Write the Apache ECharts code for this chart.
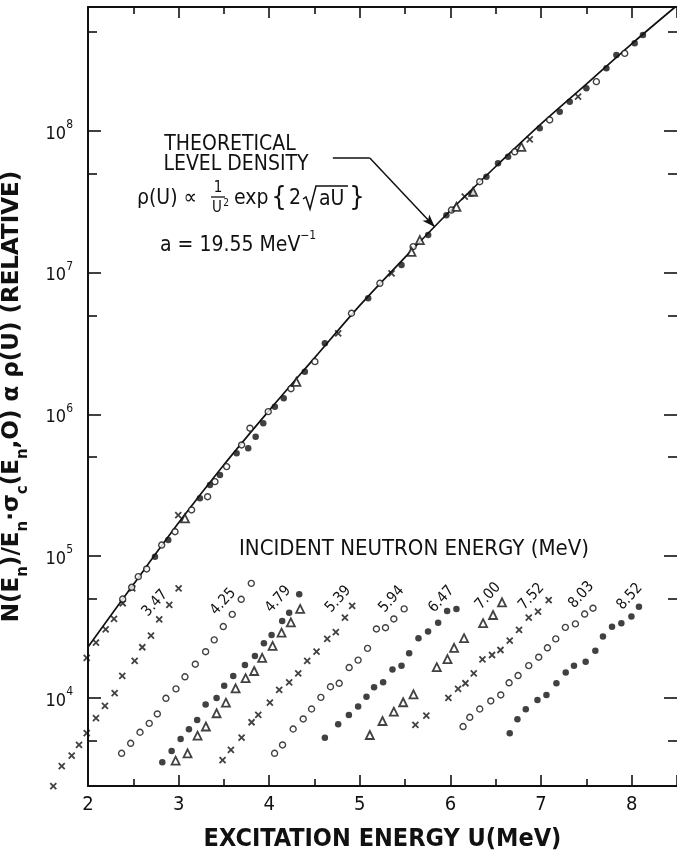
<!DOCTYPE html>
<html>
<head>
<meta charset="utf-8">
<script src="https://cdn.jsdelivr.net/npm/echarts@6/dist/echarts.min.js"></script>
<style>
html, body { margin: 0; padding: 0; background: #fff; }
#chart { width: 677px; height: 853px; }
</style>
</head>
<body>
<div id="chart"></div>
<script>
// Theoretical level density curve: [U (MeV), rho (relative)]
const theoryCurve = [
  [2.0, 22900], [2.5, 63100], [3.0, 172000], [3.5, 442000], [4.0, 1.07e6],
  [4.5, 2.51e6], [5.0, 5.89e6], [5.5, 1.288e7], [6.0, 2.75e7], [6.5, 5.62e7],
  [7.0, 1.122e8], [7.5, 2.14e8], [8.0, 4.12e8], [8.48, 7.50e8]
];

// Normalised points lying along the curve, grouped by symbol
const normCross = [
  [1.986, 19200], [2.088, 24600], [2.195, 30500], [2.287, 36100], [2.383, 46600],
  [2.489, 59400], [2.996, 195000], [4.761, 3.74e6], [5.350, 9.91e6], [6.158, 3.44e7],
  [6.875, 8.73e7], [7.408, 1.746e8]
];
const normOpen = [
  [2.383, 49900], [2.482, 60400], [2.555, 71800], [2.647, 81300], [2.813, 120000],
  [2.960, 149000], [3.143, 212000], [3.320, 263000], [3.401, 336000], [3.530, 429000],
  [3.695, 610000], [3.787, 800000], [3.989, 1.047e6], [4.24, 1.52e6], [4.504, 2.36e6],
  [4.908, 5.18e6], [5.221, 8.43e6], [5.588, 1.528e7], [6.011, 2.77e7], [6.323, 4.39e7],
  [6.709, 7.14e7], [7.095, 1.197e8], [7.610, 2.23e8], [7.923, 3.53e8]
];
const normDot = [
  [2.739, 99300], [2.886, 130000], [3.235, 256000], [3.346, 318000], [3.456, 374000],
  [3.640, 532000], [3.768, 578000], [3.850, 697000], [3.934, 867000], [4.062, 1.135e6],
  [4.16, 1.30e6], [4.393, 2.00e6], [4.614, 3.18e6], [5.092, 6.61e6], [5.460, 1.135e7],
  [5.754, 1.845e7], [5.955, 2.55e7], [6.232, 3.63e7], [6.397, 4.76e7], [6.525, 5.92e7],
  [6.636, 6.59e7], [6.985, 1.045e8], [7.206, 1.368e8], [7.316, 1.611e8], [7.500, 2.00e8],
  [7.721, 2.77e8], [7.831, 3.44e8], [8.033, 4.16e8], [8.124, 4.75e8]
];
const normTri = [
  [3.070, 185000], [4.30, 1.70e6], [5.570, 1.406e7], [5.662, 1.702e7],
  [6.066, 2.92e7], [6.250, 3.73e7], [6.783, 7.74e7]
];

// Measured spectra for each incident neutron energy: [U (MeV), counts (relative)]
const spec347 = [
  [1.617, 2390], [1.710, 3310], [1.820, 3920], [1.901, 4660], [1.986, 5640],
  [2.088, 7200], [2.187, 8780], [2.294, 10800], [2.378, 14300], [2.515, 18300],
  [2.599, 22800], [2.695, 27500], [2.786, 35900], [2.897, 45300], [3.000, 59400]
];
const spec425 = [
  [2.371, 4070], [2.471, 4790], [2.574, 5730], [2.676, 6620], [2.765, 7710],
  [2.860, 9950], [2.971, 11600], [3.070, 14100], [3.184, 17300], [3.298, 21200],
  [3.393, 25700], [3.493, 31900], [3.592, 38900], [3.691, 49700], [3.802, 64400]
];
const spec479dot = [
  [2.820, 3520], [2.923, 4230], [3.022, 5140], [3.114, 6010], [3.205, 7000],
  [3.298, 8980], [3.419, 10000], [3.503, 12200], [3.603, 14300], [3.732, 17100],
  [3.842, 19800], [3.941, 24300], [4.026, 27800], [4.143, 34900], [4.220, 40000],
  [4.331, 54000]
];
const spec479tri = [
  [2.967, 3610], [3.099, 4070], [3.209, 5420], [3.301, 6290], [3.419, 7800],
  [3.522, 9270], [3.629, 11700], [3.739, 13800], [3.834, 15500], [3.922, 19200],
  [4.037, 23300], [4.136, 28900], [4.239, 34200], [4.341, 42500]
];
const spec539 = [
  [3.485, 3650], [3.577, 4300], [3.695, 5250], [3.805, 6740], [3.879, 7590],
  [4.007, 9270], [4.110, 11400], [4.220, 12900], [4.320, 14900], [4.419, 18300],
  [4.522, 21200], [4.640, 26100], [4.735, 29100], [4.835, 36900], [4.915, 44600]
];
const spec594 = [
  [4.059, 4070], [4.147, 4660], [4.264, 6040], [4.375, 7110], [4.467, 8360],
  [4.570, 10100], [4.676, 12000], [4.772, 12700], [4.882, 16400], [4.981, 18500],
  [5.085, 22400], [5.183, 30700], [5.283, 31300], [5.375, 36100], [5.489, 42500]
];
const spec647 = [
  [4.614, 5250], [4.761, 6520], [4.879, 7590], [4.981, 8690], [5.073, 10200],
  [5.157, 11900], [5.257, 12900], [5.360, 15900], [5.460, 16900], [5.544, 20700],
  [5.647, 26400], [5.753, 29400], [5.864, 34000], [5.963, 41100], [6.066, 42500]
];
const spec700 = [
  [5.110, 5480], [5.250, 6880], [5.375, 8000], [5.478, 9330], [5.592, 10600],
  [5.849, 16500], [5.967, 18800], [6.040, 22600], [6.150, 26400], [6.360, 33700],
  [6.470, 38500], [6.569, 47300]
];
const spec752 = [
  [5.613, 6460], [5.734, 7500], [5.977, 10000], [6.084, 11600], [6.165, 12700],
  [6.257, 14900], [6.353, 18700], [6.459, 20100], [6.552, 21800], [6.654, 25400],
  [6.757, 30200], [6.864, 36900], [6.966, 40600], [7.084, 49100]
];
const spec803 = [
  [6.139, 6290], [6.213, 7310], [6.323, 8360], [6.445, 9530], [6.555, 10500],
  [6.647, 12800], [6.746, 14400], [6.864, 16900], [6.974, 19400], [7.070, 22600],
  [7.162, 26100], [7.268, 31500], [7.379, 33300], [7.481, 39100], [7.573, 43000]
];
const spec852 = [
  [6.654, 5640], [6.739, 7080], [6.831, 8330], [6.960, 9680], [7.059, 10500],
  [7.169, 12700], [7.272, 15100], [7.363, 16900], [7.492, 18000], [7.599, 21500],
  [7.683, 27100], [7.783, 31800], [7.886, 33700], [7.997, 37500], [8.080, 44100]
];

// Incident neutron energies (MeV) and where each tag sits, in data units
const energyTags = ['3.47', '4.25', '4.79', '5.39', '5.94', '6.47', '7.00', '7.52', '8.03', '8.52'];
const energyTagAt = [
  [2.739, 46600], [3.492, 47800], [4.099, 49700], [4.761, 49700], [5.350, 49700],
  [5.901, 49700], [6.415, 52500], [6.894, 51900], [7.445, 53300], [7.978, 51900]
];

// Leader from the annotation to the curve, in data units
const leaderPath = [[4.702, 6.45e7], [5.110, 6.45e7], [5.827, 2.10e7]];

// Axis ranges and ticks
const xRange = [2, 8.5];
const yRange = [2393, 7.5e8];
const yMajorTicks = [1e4, 1e5, 1e6, 1e7, 1e8];
const yMinorTicks = [5e3, 5e4, 5e5, 5e6, 5e7, 5e8];

const INK = '#111';
const FONT = '"DejaVu Sans Condensed", "DejaVu Sans", sans-serif';

const chart = echarts.init(document.getElementById('chart'), null, { renderer: 'canvas' });

const crossPath = 'path://M0,0L10,10M10,0L0,10';
const styles = {
  cross: { symbol: crossPath, symbolSize: 6, itemStyle: { color: 'none', borderColor: INK, borderWidth: 1.8 } },
  open:  { symbol: 'circle', symbolSize: 6, itemStyle: { color: '#fff', borderColor: INK, borderWidth: 1.4 } },
  dot:   { symbol: 'circle', symbolSize: 6.5, itemStyle: { color: INK, borderWidth: 0 } },
  tri:   { symbol: 'triangle', symbolSize: 8, itemStyle: { color: '#fff', borderColor: INK, borderWidth: 1.8 } }
};

function scatter(name, data, kind) {
  return Object.assign({
    name: name, type: 'scatter', data: data, clip: false, silent: true,
    xAxisIndex: 0, yAxisIndex: 0, z: 3
  }, styles[kind]);
}

function yAxisDef(position, ticks, len, withLabels, withLine) {
  return {
    type: 'log', position: position, min: yRange[0], max: yRange[1],
    axisLine: { show: withLine, lineStyle: { color: INK, width: 2 } },
    axisTick: { show: true, inside: true, length: len, customValues: ticks,
                lineStyle: { color: INK, width: 1.6 } },
    axisLabel: {
      show: withLabels, customValues: ticks, margin: 15,
      formatter: function (v) {
        const e = v > 50 ? Math.round(Math.log10(v)) : Math.round(v);
        return '{b|10}{s|' + e + '}';
      },
      rich: {
        b: { fontSize: 18, fontFamily: FONT, color: INK, lineHeight: 24, verticalAlign: 'bottom' },
        s: { fontSize: 12, fontFamily: FONT, color: INK, lineHeight: 12, verticalAlign: 'top' }
      }
    },
    splitLine: { show: false },
    minorTick: { show: false }
  };
}

function xAxisDef(position, withLabels) {
  return {
    type: 'value', position: position, min: xRange[0], max: xRange[1], interval: 1,
    axisLine: { show: true, onZero: false, lineStyle: { color: INK, width: 2 } },
    axisTick: { show: true, inside: true, length: 11, lineStyle: { color: INK, width: 1.6 } },
    minorTick: { show: true, splitNumber: 2, length: 7, lineStyle: { color: INK, width: 1.6 } },
    axisLabel: {
      show: withLabels, margin: 9, color: INK, fontSize: 20, fontFamily: FONT,
      showMaxLabel: false,
      formatter: function (v) { return Math.abs(v - Math.round(v)) < 1e-6 ? String(Math.round(v)) : ''; }
    },
    splitLine: { show: false }
  };
}

const bottomAxis = xAxisDef('bottom', true);
bottomAxis.name = 'EXCITATION ENERGY U(MeV)';
bottomAxis.nameLocation = 'middle';
bottomAxis.nameGap = 41;
bottomAxis.nameTextStyle = { fontSize: 25, fontFamily: FONT, fontWeight: 'bold', color: INK };

const leftAxis = yAxisDef('left', yMajorTicks, 13, true, true);
leftAxis.name = '{m|N(E}{u|n}{m|)/E}{u|n}{m|·σ}{u|c}{m|(E}{u|n}{m|,O) α ρ(U) (RELATIVE)}';
leftAxis.nameLocation = 'middle';
leftAxis.nameRotate = 90;
leftAxis.nameGap = 57;
leftAxis.nameTextStyle = {
  rich: {
    m: { fontSize: 23, fontFamily: '"DejaVu Sans", sans-serif', fontWeight: 'bold', color: INK, lineHeight: 30, verticalAlign: 'top' },
    u: { fontSize: 15, fontFamily: '"DejaVu Sans", sans-serif', fontWeight: 'bold', color: INK, lineHeight: 15, verticalAlign: 'bottom' }
  }
};

const option = {
  animation: false,
  backgroundColor: '#fff',
  grid: { left: 88, right: 0, top: 7, bottom: 67, containLabel: false, outerBoundsMode: 'none' },
  xAxis: [bottomAxis, xAxisDef('top', false)],
  yAxis: [
    leftAxis,
    yAxisDef('left', yMinorTicks, 9, false, false),
    yAxisDef('right', yMajorTicks, 13, false, false),
    yAxisDef('right', yMinorTicks, 9, false, false)
  ],
  series: [
    {
      name: 'theory', type: 'line', data: theoryCurve, smooth: 0.3, showSymbol: false,
      silent: true, xAxisIndex: 0, yAxisIndex: 0, z: 2,
      lineStyle: { color: INK, width: 1.7 },
      markLine: {
        silent: true, animation: false,
        label: { show: false },
        lineStyle: { color: INK, width: 1.5, type: 'solid' },
        data: [
          [{ coord: leaderPath[0], symbol: 'none' }, { coord: leaderPath[1], symbol: 'none' }],
          [{ coord: leaderPath[1], symbol: 'none' }, { coord: leaderPath[2], symbol: 'arrow', symbolSize: [7, 13] }]
        ]
      }
    },
    scatter('norm ×', normCross, 'cross'),
    scatter('norm ○', normOpen, 'open'),
    scatter('norm ●', normDot, 'dot'),
    scatter('norm △', normTri, 'tri'),
    scatter('3.47', spec347, 'cross'),
    scatter('4.25', spec425, 'open'),
    scatter('4.79 ●', spec479dot, 'dot'),
    scatter('4.79 △', spec479tri, 'tri'),
    scatter('5.39', spec539, 'cross'),
    scatter('5.94', spec594, 'open'),
    scatter('6.47', spec647, 'dot'),
    scatter('7.00', spec700, 'tri'),
    scatter('7.52', spec752, 'cross'),
    scatter('8.03', spec803, 'open'),
    scatter('8.52', spec852, 'dot')
  ]
};

chart.setOption(option);

// Annotation text: theoretical level density formula
function txt(text, x, y, size, align, extra) {
  return Object.assign({
    type: 'text', x: x, y: y, silent: true, z: 10,
    style: { text: text, fill: INK, fontSize: size, fontFamily: FONT,
             align: align || 'center', verticalAlign: 'middle' }
  }, extra || {});
}

const graphics = [
  txt('THEORETICAL', 230, 145, 21),
  txt('LEVEL DENSITY', 236, 165, 21),
  txt('ρ(U) ∝', 137, 199, 21, 'left'),
  txt('1', 218, 188, 15),
  { type: 'line', silent: true, z: 10, shape: { x1: 211, y1: 197, x2: 225, y2: 197 }, style: { stroke: INK, lineWidth: 1.3 } },
  txt('U', 217, 208, 15),
  txt('2', 226, 203, 10),
  txt('exp', 234, 199, 21, 'left'),
  txt('{', 279, 198, 27),
  txt('2', 289, 199, 21, 'left'),
  { type: 'polyline', silent: true, z: 10,
    shape: { points: [[303, 199], [306, 197], [310, 209], [316, 186], [348, 186]] },
    style: { stroke: INK, fill: null, lineWidth: 1.5 } },
  txt('aU', 319, 200, 21, 'left'),
  txt('}', 357, 198, 27),
  { type: 'text', x: 160, y: 243, silent: true, z: 10,
    style: {
      text: '{m|a = 19.55 MeV}{s|−1}', fill: INK, align: 'left', verticalAlign: 'middle',
      rich: {
        m: { fontSize: 21, fontFamily: FONT, fill: INK, lineHeight: 26, verticalAlign: 'bottom' },
        s: { fontSize: 12, fontFamily: FONT, fill: INK, lineHeight: 12, verticalAlign: 'top' }
      }
    } },
  txt('INCIDENT NEUTRON ENERGY (MeV)', 239, 549, 22, 'left')
];

// Energy tags, rotated along the spectra
const tagAngle = 48 * Math.PI / 180;
energyTags.forEach(function (t, i) {
  const p = chart.convertToPixel({ xAxisIndex: 0, yAxisIndex: 0 }, energyTagAt[i]);
  graphics.push(txt(t, p[0], p[1], 15, 'center', { rotation: tagAngle }));
});

chart.setOption({ graphic: { elements: graphics } });
</script>
</body>
</html>
